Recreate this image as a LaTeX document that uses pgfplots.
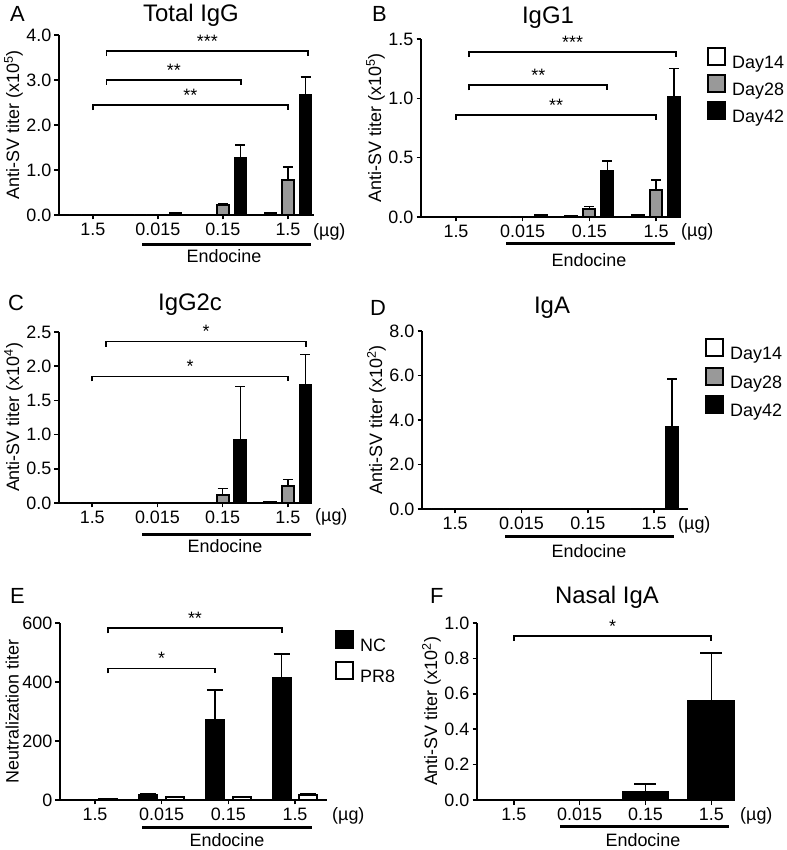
\documentclass[border=0pt]{standalone}
\usepackage{fontspec}
\setmainfont{Liberation Sans}
\usepackage{pgfplots}
\usepackage{pgfplotstable}
\pgfplotsset{compat=1.18}
\newcommand\fs[1]{\fontsize{#1}{#1}\selectfont}
\definecolor{pgray}{gray}{0.6}

\pgfplotstableread{
x  d14  e14  d28  e28  d42  e42
0  0    0    0    0    0    0
1  0    0    0    0    0.04 0.01
2  0.01 0    0.23 0.03 1.26 0.30
3  0.04 0    0.78 0.29 2.67 0.40
}\dataA
\pgfplotstableread{
x  d14   e14  d28  e28  d42  e42
0  0     0    0    0    0    0
1  0     0    0    0    0.02 0
2  0.005 0    0.07 0.02 0.39 0.08
3  0.02  0    0.23 0.08 1.01 0.24
}\dataB
\pgfplotstableread{
x  d14  e14  d28  e28  d42  e42
0  0    0    0    0    0    0
1  0    0    0    0    0    0
2  0    0    0.12 0.09 0.92 0.78
3  0.01 0    0.25 0.09 1.72 0.45
}\dataC
\pgfplotstableread{
x  d14  e14  d28  e28  d42  e42
0  0    0    0    0    0    0
1  0    0    0    0    0    0
2  0    0    0    0    0    0
3  0    0    0    0    3.69 2.15
}\dataD
\pgfplotstableread{
x  nc   enc  pr8  epr8
0  0    0    3    0
1  16   6    10   2
2  271  102  10   2
3  413  82   17   4
}\dataE
\pgfplotstableread{
x  v     e
0  0     0
1  0     0
2  0.047 0.042
3  0.56  0.27
}\dataF

\pgfplotsset{
  prism/.style={
    scale only axis, anchor=south west, clip=false,
    axis lines=left, axis line style={-, line width=1.8bp},
    tick align=outside, major tick length=4.5bp,
    every tick/.style={black, line width=1.6bp},
    xtick={0,1,2,3}, xticklabels={1.5,0.015,0.15,1.5},
    ymin=0,
    tick label style={font=\fs{18}},
    yticklabel style={inner sep=0pt, xshift=-3bp},
    /pgf/number format/assume math mode=true,
    label style={font=\fs{18}},
  },
  barbase/.style={ybar, draw=black, line width=1.8bp, forget plot, bar shift=0bp,
    error bars/y dir=plus, error bars/y explicit,
    error bars/error mark=|,
    error bars/error bar style={line width=1.5bp, black},
    error bars/error mark options={line width=1.5bp, mark size=5bp, black}},
  d14/.style={barbase, fill=white, bar width=12bp},
  d28/.style={barbase, fill=pgray, bar width=12bp},
  d42/.style={barbase, fill=black, bar width=12bp},
  leg/.style={legend cell align=left,
    legend style={anchor=north west, draw=none, fill=none, inner sep=0pt,
      outer sep=0pt, font=\fs{18}, nodes={inner sep=0pt}}},
}
\newcommand\brk[4]{%
  \draw[line width=1.8bp] ([yshift=-5bp]axis cs:#1,#3) -- (axis cs:#1,#3)
    -- node[above=3bp, font=\fs{18}, inner sep=0pt]{#4} (axis cs:#2,#3)
    -- ([yshift=-5bp]axis cs:#2,#3);}
\newcommand\swatch[1]{\addlegendimage{legend image code/.code={%
  \draw[fill=#1, draw=black, line width=2bp] (0bp,-2bp) rectangle (17bp,15bp);
  \path (24bp,0bp);}}}
\newcommand\threebars[1]{%
  \addplot[d14] table[x expr=\thisrow{x}-0.27,y=d14,y error=e14]{#1};
  \addplot[d28] table[x=x,y=d28,y error=e28]{#1};
  \addplot[d42] table[x expr=\thisrow{x}+0.27,y=d42,y error=e42]{#1};}

\begin{document}
\begin{tikzpicture}
\useasboundingbox (0,0) rectangle (787bp,850bp);

% ---------------- A
\begin{axis}[prism, at={(59bp,635bp)}, width=255bp, height=180bp,
  xmin=-0.52, xmax=3.40, ymax=4, ytick={0,1,2,3,4}, yticklabels={0.0,1.0,2.0,3.0,4.0},
  ylabel={Anti-SV titer (x10\textsuperscript{5})}]
\threebars{\dataA}
\brk{0.21}{3.31}{3.64}{***}
\brk{0.21}{2.28}{3.0}{**}
\brk{0}{3}{2.44}{**}
\end{axis}

% ---------------- B
\begin{axis}[prism, leg, at={(421bp,633bp)}, width=259bp, height=178bp,
  xmin=-0.525, xmax=3.36, ymax=1.5, ytick={0,0.5,1,1.5}, yticklabels={0.0,0.5,1.0,1.5},
  ylabel={Anti-SV titer (x10\textsuperscript{5})},
  legend style={at={(axis description cs:1.104,0.955)}, row sep=4bp}]
\threebars{\dataB}
\swatch{white}\addlegendentry{Day14}
\swatch{pgray}\addlegendentry{Day28}
\swatch{black}\addlegendentry{Day42}
\brk{0.2}{3.3}{1.39}{***}
\brk{0.2}{2.27}{1.11}{**}
\brk{0}{3}{0.86}{**}
\end{axis}

% ---------------- C
\begin{axis}[prism, at={(59bp,347bp)}, width=253bp, height=171bp,
  xmin=-0.51, xmax=3.37, ymax=2.5, ytick={0,0.5,1,1.5,2,2.5}, yticklabels={0.0,0.5,1.0,1.5,2.0,2.5},
  ylabel={Anti-SV titer (x10\textsuperscript{4})}]
\threebars{\dataC}
\brk{0.21}{3.28}{2.36}{*}
\brk{0}{3}{1.85}{*}
\end{axis}

% ---------------- D
\begin{axis}[prism, leg, at={(422bp,341bp)}, width=266bp, height=178bp,
  xmin=-0.5, xmax=3.51, ymax=8, ytick={0,2,4,6,8}, yticklabels={0.0,2.0,4.0,6.0,8.0},
  ylabel={Anti-SV titer (x10\textsuperscript{2})},
  legend style={at={(axis description cs:1.064,0.96)}, row sep=5.5bp}]
\threebars{\dataD}
\swatch{white}\addlegendentry{Day14}
\swatch{pgray}\addlegendentry{Day28}
\swatch{black}\addlegendentry{Day42}
\end{axis}

% ---------------- E
\begin{axis}[prism, leg, at={(60bp,50bp)}, width=267bp, height=177bp,
  xmin=-0.525, xmax=3.48, ymax=600, ytick={0,200,400,600},
  ylabel={Neutralization titer},
  legend style={at={(axis description cs:1.03,0.96)}, row sep=8bp}]
\addplot[barbase, fill=black, bar width=18bp,
  error bars/error mark options={line width=1.5bp, mark size=8bp, black}]
  table[x expr=\thisrow{x}-0.2,y=nc,y error=enc]{\dataE};
\addplot[barbase, fill=white, bar width=18bp,
  error bars/error mark options={line width=1.5bp, mark size=8bp, black}]
  table[x expr=\thisrow{x}+0.2,y=pr8,y error=epr8]{\dataE};
\swatch{black}\addlegendentry{NC}
\swatch{white}\addlegendentry{PR8}
\brk{0.2}{2.8}{582}{**}
\brk{0.2}{1.8}{446}{*}
\end{axis}

% ---------------- F
\begin{axis}[prism, at={(477bp,50bp)}, width=258bp, height=177bp,
  xmin=-0.56, xmax=3.36, ymax=1, ytick={0,0.2,0.4,0.6,0.8,1}, yticklabels={0.0,0.2,0.4,0.6,0.8,1.0},
  ylabel={Anti-SV titer (x10\textsuperscript{2})}]
\addplot[barbase, fill=black, bar width=46bp,
  error bars/error mark options={line width=1.5bp, mark size=11bp, black}]
  table[x=x,y=v,y error=e]{\dataF};
\brk{0}{3}{0.927}{*}
\end{axis}

% ---------------- annotations (Endocine, units, titles, letters)
\begin{scope}[line width=3bp]
\draw (142bp,605bp) -- (311bp,605bp);
\draw (506bp,606bp) -- (675bp,606bp);
\draw (142bp,315bp) -- (311bp,315bp);
\draw (505bp,313bp) -- (674bp,313bp);
\draw (142bp,22bp) -- (312bp,22bp);
\draw (560bp,23bp) -- (729bp,23bp);
\end{scope}
\begin{scope}[every node/.style={anchor=base, inner sep=0pt, font=\fs{18}}]
\node at (224bp,587bp) {Endocine};
\node at (589bp,583bp) {Endocine};
\node at (225bp,297bp) {Endocine};
\node at (589bp,292bp) {Endocine};
\node at (227bp,4bp) {Endocine};
\node at (643bp,4bp) {Endocine};
\node[anchor=base west] at (313bp,613bp) {(µg)};
\node[anchor=base west] at (681bp,613bp) {(µg)};
\node[anchor=base west] at (315bp,328bp) {(µg)};
\node[anchor=base west] at (678bp,320bp) {(µg)};
\node[anchor=base west] at (332bp,30bp) {(µg)};
\node[anchor=base west] at (740bp,30bp) {(µg)};
\end{scope}
\begin{scope}[every node/.style={anchor=base, inner sep=0pt, font=\fs{24}}]
\node at (191bp,828bp) {Total IgG};
\node at (548bp,826bp) {IgG1};
\node at (190bp,539bp) {IgG2c};
\node at (552bp,536bp) {IgA};
\node at (607bp,246bp) {Nasal IgA};
\end{scope}
\begin{scope}[every node/.style={anchor=base west, inner sep=0pt, font=\fs{22}}]
\node at (10bp,828bp) {A};
\node at (372bp,828bp) {B};
\node at (8bp,539bp) {C};
\node at (370bp,534bp) {D};
\node at (10bp,246bp) {E};
\node at (430bp,246bp) {F};
\end{scope}
\end{tikzpicture}
\end{document}
